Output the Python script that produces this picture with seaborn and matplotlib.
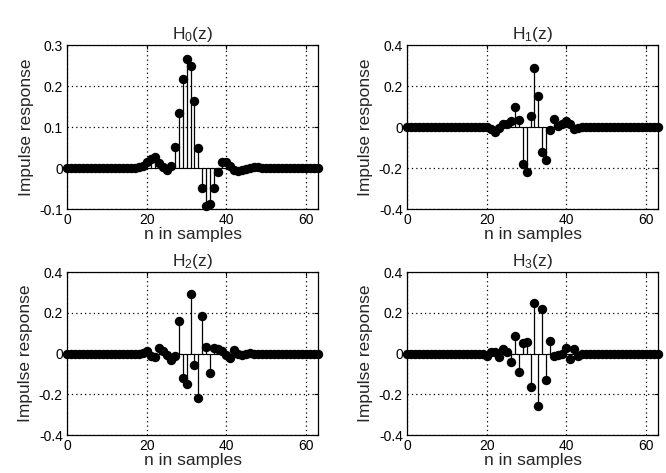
import numpy as np
import pandas as pd
import matplotlib
matplotlib.use("Agg")
import matplotlib.pyplot as plt
from matplotlib.ticker import FuncFormatter
import seaborn as sns

# ---------------- data ----------------
n_samples = list(range(64))

h0 = [0, 0, 0, 0, 0, 0, 0, 0, 0, 0, 0, 0, 0, 0, 0, 0, 0, 0,
      0.002, 0.006, 0.014, 0.022, 0.026, 0.012, 0.002, -0.005, 0.005, 0.052,
      0.134, 0.217, 0.266, 0.248, 0.163, 0.049, -0.048, -0.093, -0.088, -0.048,
      -0.010, 0.015, 0.014, 0.004, -0.005, -0.008, -0.006, -0.002, 0.001, 0.002,
      0.002, 0, 0, 0, 0, 0, 0, 0, 0, 0, 0, 0, 0, 0, 0, 0]

h1 = [0, 0, 0, 0, 0, 0, 0, 0, 0, 0, 0, 0, 0, 0, 0, 0, 0, 0, 0, 0,
      0.002, -0.008, -0.022, -0.004, 0.016, 0.013, 0.030, 0.100, 0.035, -0.180,
      -0.220, 0.056, 0.290, 0.150, -0.120, -0.160, -0.016, 0.037, 0.005, 0.016,
      0.030, 0.013, -0.011, -0.005, 0.002, 0, 0, 0, 0, 0,
      0, 0, 0, 0, 0, 0, 0, 0, 0, 0, 0, 0, 0, 0]

h2 = [0, 0, 0, 0, 0, 0, 0, 0, 0, 0, 0, 0, 0, 0, 0, 0, 0, 0, 0,
      0.003, 0.014, -0.010, -0.015, 0.028, 0.012, -0.005, -0.034, -0.014, 0.160,
      -0.120, -0.150, 0.290, -0.058, -0.220, 0.185, 0.030, -0.096, 0.026, 0.020,
      0.010, -0.005, -0.020, 0.018, 0.000, -0.008, -0.003, 0.002, 0, 0,
      0, 0, 0, 0, 0, 0, 0, 0, 0, 0, 0, 0, 0, 0, 0]

h3 = [0, 0, 0, 0, 0, 0, 0, 0, 0, 0, 0, 0, 0, 0, 0, 0, 0, 0, 0, 0,
      -0.010, 0.008, 0.008, -0.016, 0.022, 0.005, -0.044, 0.087, -0.090, 0.050,
      0.055, -0.163, 0.247, -0.258, 0.217, -0.130, 0.060, -0.014, -0.005, 0.000,
      0.026, -0.026, 0.022, -0.010, -0.002, 0, 0, 0, 0, 0,
      0, 0, 0, 0, 0, 0, 0, 0, 0, 0, 0, 0, 0, 0]

titles = ["H$_0$(z)", "H$_1$(z)", "H$_2$(z)", "H$_3$(z)"]
series = [h0, h1, h2, h3]
yticks_first = [-0.1, 0, 0.1, 0.2, 0.3]
yticks_other = [-0.4, -0.2, 0, 0.2, 0.4]
xticks = [0, 20, 40, 60]
xlabel_text = "n in samples"
ylabel_text = "Impulse response"

# ---------------- style ----------------
sns.set_style("white")
plt.rcParams["font.family"] = ["Liberation Sans", "DejaVu Sans"]
plt.rcParams["mathtext.default"] = "regular"
plt.rcParams["axes.edgecolor"] = "black"
plt.rcParams["axes.linewidth"] = 0.9

fig = plt.figure(figsize=(6.66, 4.73), dpi=100)

W = 251 / 666
positions = [
    (67 / 666, 1 - 209 / 473, W, (209 - 45) / 473),
    (407 / 666, 1 - 209 / 473, W, (209 - 45) / 473),
    (67 / 666, 1 - 435 / 473, W, (435 - 272) / 473),
    (407 / 666, 1 - 435 / 473, W, (435 - 272) / 473),
]

fmt = FuncFormatter(lambda v, p: "%g" % round(v, 3))

for i, (pos, h, title) in enumerate(zip(positions, series, titles)):
    ax = fig.add_axes(pos)
    df = pd.DataFrame({"n": n_samples, "h": h})
    ax.vlines(df["n"], 0, df["h"], color="black", linewidth=0.9, zorder=2)
    ax.axhline(0, color="black", linewidth=0.8, zorder=2)
    sns.scatterplot(data=df, x="n", y="h", ax=ax, color="black", s=46,
                    edgecolor="black", linewidth=0, zorder=3, legend=False,
                    clip_on=False)
    yt = yticks_first if i == 0 else yticks_other
    ax.set_xlim(0, 63)
    ax.set_ylim(yt[0], yt[-1])
    ax.set_xticks(xticks)
    ax.set_yticks(yt)
    ax.yaxis.set_major_formatter(fmt)
    ax.grid(True, linestyle=(0, (1, 2.5)), color="black", linewidth=0.9)
    ax.set_axisbelow(True)
    ax.tick_params(direction="in", length=3, width=0.8, top=True, right=True,
                   labelsize=10, colors="black", pad=3)
    ax.set_xlabel(xlabel_text, fontsize=12.5, labelpad=0)
    ax.set_ylabel(ylabel_text, fontsize=12.5, labelpad=4)
    ax.set_title(title, fontsize=12.5, pad=4)
    for s in ax.spines.values():
        s.set_visible(True)
        s.set_color("black")
        s.set_zorder(4)

fig.savefig("out.png", dpi=100)
